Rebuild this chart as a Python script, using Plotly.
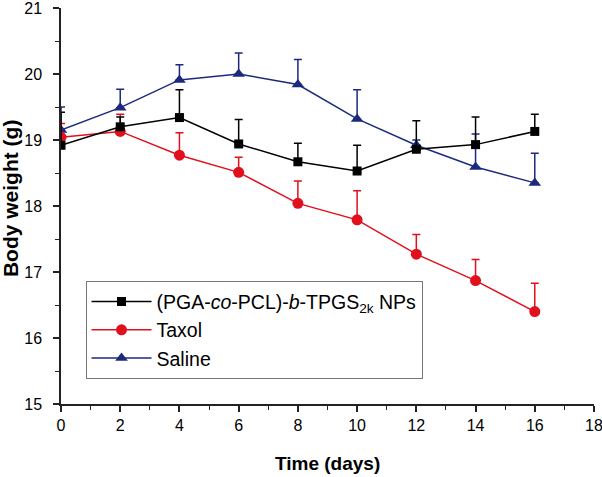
import plotly.graph_objects as go

days = [0, 2, 4, 6, 8, 10, 12, 14, 16]

np_label = "(PGA-<i>co</i>-PCL)-<i>b</i>-TPGS<sub>2k</sub> NPs"
np_mean = [18.92, 19.20, 19.34, 18.94, 18.67, 18.53, 18.86, 18.93, 19.13]
np_err = [0.50, 0.15, 0.42, 0.37, 0.28, 0.39, 0.43, 0.42, 0.26]

taxol_mean = [19.04, 19.13, 18.77, 18.51, 18.04, 17.79, 17.27, 16.87, 16.40]
taxol_err = [0.21, 0.26, 0.34, 0.23, 0.34, 0.44, 0.30, 0.32, 0.43]

saline_mean = [19.15, 19.49, 19.91, 20.00, 19.84, 19.32, 18.92, 18.59, 18.35]
saline_err = [0.35, 0.28, 0.23, 0.32, 0.38, 0.44, 0.08, 0.50, 0.45]

x_title = "Time (days)"
y_title = "Body weight (g)"

BLACK = "#000000"
RED = "#e0101c"
BLUE = "#1c2a7e"

x_ticks = [0, 2, 4, 6, 8, 10, 12, 14, 16, 18]
y_ticks = [15, 16, 17, 18, 19, 20, 21]

fig = go.Figure()


def add(name, y, err, color, symbol, size, rank):
    fig.add_trace(go.Scatter(
        x=days, y=y, name=name, mode="lines+markers",
        line=dict(color=color, width=1.5),
        marker=dict(color=color, symbol=symbol, size=size),
        error_y=dict(type="data", symmetric=False, array=err,
                     arrayminus=[0] * len(err), color=color,
                     thickness=1.5, width=4),
        legendrank=rank,
    ))


add("Saline", saline_mean, saline_err, BLUE, "triangle-up", 11, 3)
add("Taxol", taxol_mean, taxol_err, RED, "circle", 11, 2)
add(np_label, np_mean, np_err, BLACK, "square", 9, 1)

axis_common = dict(
    showline=True, linecolor="#222222", linewidth=1.5,
    ticks="outside", ticklen=6, tickwidth=1.5, tickcolor="#222222",
    showgrid=False, zeroline=False, mirror=False, automargin=False,
    ticklabeloverflow="allow",
    tickfont=dict(family="Liberation Sans, Arial", size=16, color="#000"),
)

fig.update_xaxes(
    range=[0, 18], tickvals=x_ticks, ticktext=[str(v) for v in x_ticks],
    minor=dict(dtick=1, ticks="outside", ticklen=4, tickwidth=1.2,
               tickcolor="#222222"),
    **axis_common,
)
fig.update_yaxes(
    range=[15, 21], tickvals=y_ticks, ticktext=[str(v) for v in y_ticks],
    minor=dict(dtick=0.5, ticks="outside", ticklen=4, tickwidth=1.2,
               tickcolor="#222222"),
    ticklabelstandoff=8,
    **axis_common,
)

title_font = dict(family="Liberation Sans, Arial", color="#000")
fig.add_annotation(
    text="<b>" + x_title + "</b>", xref="paper", yref="paper",
    x=0.5, y=-0.149, xanchor="center", yanchor="middle", showarrow=False,
    font=dict(size=19, **title_font),
)
fig.add_annotation(
    text="<b>" + y_title + "</b>", xref="paper", yref="paper",
    x=-0.0957, y=0.52, xanchor="center", yanchor="middle", showarrow=False,
    textangle=-90, font=dict(size=21, **title_font),
)

fig.update_layout(
    width=602, height=477,
    margin=dict(l=61, r=8, t=8, b=73),
    paper_bgcolor="white", plot_bgcolor="white",
    showlegend=True,
    legend=dict(
        x=0.046, y=0.31, xanchor="left", yanchor="top",
        bgcolor="white", bordercolor="#777777", borderwidth=1,
        font=dict(family="Liberation Sans, Arial", size=19.5, color="#000"),
        tracegroupgap=0, itemwidth=60,
    ),
)

fig.write_html(
    "out.html",
    config={"displayModeBar": False},
    post_script="document.body.style.margin='0';document.body.style.padding='0';",
)
